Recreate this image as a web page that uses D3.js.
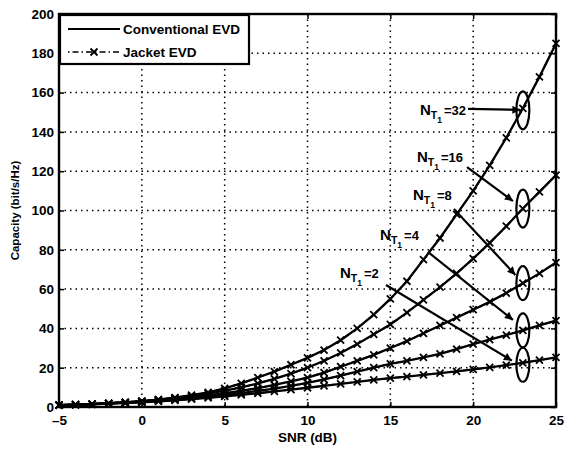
<!DOCTYPE html>
<html><head><meta charset="utf-8">
<script src="https://cdn.jsdelivr.net/npm/d3@7"></script>
<style>
body{margin:0;background:#fff}
text{font-family:"Liberation Sans",Arial,Helvetica,sans-serif;font-weight:bold;fill:#000}
</style></head>
<body><svg id="chart" width="565" height="450"></svg>
<script>
// ---------- data ----------
const snrDb = [-5,-4,-3,-2,-1,0,1,2,3,4,5,6,7,8,9,10,11,12,13,14,15,16,17,18,19,20,21,22,23,24,25];
const capNT32 = [1.0,1.2,1.5,1.9,2.4,3.0,3.8,4.8,6.0,7.5,9.5,12,15,18,21.5,25,29,34,40,47,55,64,75,86,98,110,123,137,152,168,185];
const capNT16 = [1.0,1.2,1.5,1.9,2.4,3.0,3.7,4.6,5.6,6.8,8.3,10,12,14.3,17,20,23.5,27.5,32,37,42,48,54.5,61,68,75.5,83.5,92,101,109.5,118];
const capNT8  = [1.0,1.2,1.5,1.9,2.4,2.9,3.5,4.2,5.0,5.9,7.0,8.2,9.6,11.2,13,15,17.5,20.5,23.5,26.5,30,33.5,37.5,41.5,45.5,49.5,53.5,58,63,68,73.5];
const capNT4  = [1.0,1.2,1.5,1.8,2.2,2.6,3.1,3.7,4.4,5.2,6.1,7.1,8.2,9.4,10.8,12.3,14,16,18,20,22,23.5,25.3,27,29.5,32,34.3,36.6,39,41.5,44];
const capNT2  = [0.9,1.1,1.4,1.7,2.0,2.4,2.9,3.4,4.0,4.7,5.4,6.2,7.0,7.9,8.8,9.8,10.8,11.8,12.8,13.8,14.7,15.5,16.3,17.2,18.1,19.1,20.2,21.3,22.5,23.8,25.2];
const antennaLabels = ["32","16","8","4","2"];
const conventionalEVD = [capNT32, capNT16, capNT8, capNT4, capNT2];
const jacketEVD = [capNT32, capNT16, capNT8, capNT4, capNT2];
const xTicks = [-5,0,5,10,15,20,25];
const yTicks = [0,20,40,60,80,100,120,140,160,180,200];
const seriesNames = ["Conventional EVD","Jacket EVD"];
const xLabel = "SNR  (dB)";
const yLabel = "Capacity  (bit/s/Hz)";
const ellipseSnr = 23;
const ellipseCap = [151,101,63,39,21.5];

// ---------- layout ----------
const svg = d3.select("#chart");
const L=59, R=556, T=14, B=407;
const x = d3.scaleLinear().domain([-5,25]).range([L,R]);
const y = d3.scaleLinear().domain([0,200]).range([B,T]);

// grid
const g = svg.append("g");
g.selectAll(".vg").data(xTicks.slice(1,-1)).enter().append("line")
  .attr("x1",d=>x(d)).attr("x2",d=>x(d)).attr("y1",T).attr("y2",B)
  .attr("stroke","#000").attr("stroke-width",1.5).attr("stroke-dasharray","1.5,4");
g.selectAll(".hg").data(yTicks.slice(1,-1)).enter().append("line")
  .attr("y1",d=>y(d)).attr("y2",d=>y(d)).attr("x1",L).attr("x2",R)
  .attr("stroke","#000").attr("stroke-width",1.5).attr("stroke-dasharray","1.5,4");

// axes
const xAxis = d3.axisBottom(x).tickValues(xTicks).tickSize(-5).tickPadding(8)
  .tickFormat(d=>d<0?"\u2013"+Math.abs(d):d);
const yAxis = d3.axisLeft(y).tickValues(yTicks).tickSize(-5).tickPadding(5);
const ax = svg.append("g").attr("transform",`translate(0,${B})`).call(xAxis);
const ay = svg.append("g").attr("transform",`translate(${L},0)`).call(yAxis);
[ax,ay].forEach(a=>{
  a.select(".domain").remove();
  a.selectAll(".tick line").attr("stroke","#000").attr("stroke-width",1.5);
  a.selectAll(".tick text").style("font-size","13.5px").style("font-family","'Liberation Sans',Arial,sans-serif").style("font-weight","bold");
});
// top / right ticks
svg.append("g").attr("transform",`translate(0,${T})`).call(d3.axisTop(x).tickValues(xTicks).tickSize(-5).tickFormat(""))
  .call(a=>{a.select(".domain").remove();a.selectAll("line").attr("stroke-width",1.5);});
svg.append("g").attr("transform",`translate(${R},0)`).call(d3.axisRight(y).tickValues(yTicks).tickSize(-5).tickFormat(""))
  .call(a=>{a.select(".domain").remove();a.selectAll("line").attr("stroke-width",1.5);});

// frame
svg.append("rect").attr("x",L).attr("y",T).attr("width",R-L).attr("height",B-T)
  .attr("fill","none").attr("stroke","#000").attr("stroke-width",2.4);

// curves
const line = d3.line().x((d,i)=>x(snrDb[i])).y(d=>y(d));
const plot = svg.append("g");
conventionalEVD.forEach(s=>{
  plot.append("path").attr("d",line(s)).attr("fill","none").attr("stroke","#000").attr("stroke-width",2.3);
});
const ms = 3.5;
jacketEVD.forEach(s=>{
  plot.append("path").attr("d",line(s)).attr("fill","none").attr("stroke","#000").attr("stroke-width",1.6)
    .attr("stroke-dasharray","6,3,1.5,3");
  plot.selectAll(null).data(s).enter().append("path")
    .attr("d",(d,i)=>{const cx=x(snrDb[i]),cy=y(d);return `M${cx-ms},${cy-ms}L${cx+ms},${cy+ms}M${cx-ms},${cy+ms}L${cx+ms},${cy-ms}`;})
    .attr("stroke","#000").attr("stroke-width",1.8);
});

// annotations
svg.append("defs").append("marker").attr("id","ah").attr("viewBox","0 0 10 10")
  .attr("refX",10).attr("refY",5).attr("markerWidth",11).attr("markerHeight",8)
  .attr("orient","auto").attr("markerUnits","userSpaceOnUse")
  .append("path").attr("d","M0,0L10,5L0,10Z").attr("fill","#000");
const notes = [
  {tx:16.79,ty:148.6, x1:19.69,y1:151.7, x2:22.85,y2:151.2},
  {tx:16.61,ty:124.7, x1:19.63,y1:122.1, x2:22.40,y2:104.8},
  {tx:16.37,ty:105.3, x1:18.84,y1:100.8, x2:22.55,y2:67.2},
  {tx:14.38,ty:85.0,  x1:17.27,y1:78.9,  x2:22.40,y2:44.3},
  {tx:11.96,ty:65.6,  x1:14.74,y1:62.1,  x2:22.34,y2:23.6}
];
antennaLabels.forEach((lab,i)=>{
  const n = notes[i];
  const t = svg.append("text").attr("x",x(n.tx)).attr("y",y(n.ty)).style("font-size","15px");
  t.append("tspan").text("N");
  t.append("tspan").attr("dy",4).style("font-size","10.5px").text("T");
  t.append("tspan").attr("dy",4).style("font-size","8.5px").text("1");
  t.append("tspan").attr("dy",-8).attr("dx",2).style("font-size","13px").text("="+lab);
  svg.append("line").attr("x1",x(n.x1)).attr("y1",y(n.y1)).attr("x2",x(n.x2)).attr("y2",y(n.y2))
    .attr("stroke","#000").attr("stroke-width",2.2).attr("marker-end","url(#ah)");
  svg.append("ellipse").attr("cx",x(ellipseSnr)).attr("cy",y(ellipseCap[i]))
    .attr("rx",6.5).attr("ry",i<2?19:17).attr("fill","none").attr("stroke","#000").attr("stroke-width",2.2);
});

// labels
svg.append("text").attr("x",(L+R)/2).attr("y",442).attr("text-anchor","middle").style("font-size","13.5px").text(xLabel);
svg.append("text").attr("transform",`translate(19,${(T+B)/2}) rotate(-90)`).attr("text-anchor","middle").style("font-size","11.5px").text(yLabel);

// legend
const lg = svg.append("g");
lg.append("rect").attr("x",L+1).attr("y",T+1).attr("width",189).attr("height",49).attr("fill","#fff").attr("stroke","#000").attr("stroke-width",2.2);
lg.append("line").attr("x1",68).attr("x2",120).attr("y1",29).attr("y2",29).attr("stroke","#000").attr("stroke-width",2.2);
lg.append("line").attr("x1",68).attr("x2",120).attr("y1",52).attr("y2",52).attr("stroke","#000").attr("stroke-width",1.6).attr("stroke-dasharray","1.5,3,6,3");
lg.append("path").attr("d",`M${94-ms},${52-ms}L${94+ms},${52+ms}M${94-ms},${52+ms}L${94+ms},${52-ms}`).attr("stroke","#000").attr("stroke-width",1.8);
lg.append("text").attr("x",123).attr("y",34).style("font-size","13.5px").text(seriesNames[0]);
lg.append("text").attr("x",123).attr("y",57).style("font-size","13.5px").text(seriesNames[1]);
</script></body></html>
